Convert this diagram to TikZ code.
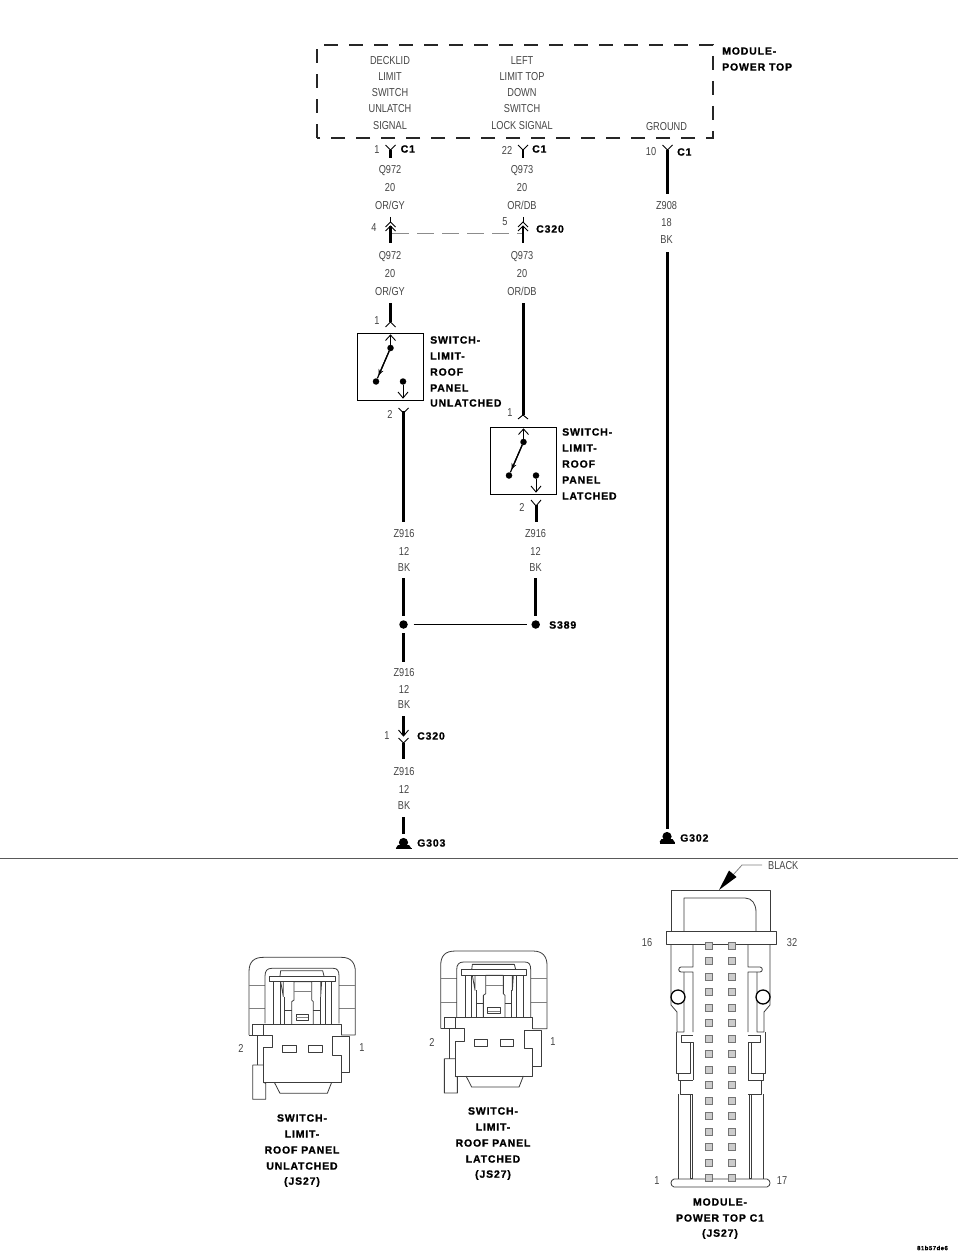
\documentclass[tikz,border=0pt]{standalone}
\usepackage{fontspec}
\usetikzlibrary{arrows.meta,calc}
\newfontfamily\labfont[FakeStretch=0.8]{Liberation Sans}
\newfontfamily\boldbase[LetterSpace=8,BoldFeatures={FakeBold=0.9}]{Liberation Sans}
\newcommand{\boldfont}{\boldbase\bfseries}
\definecolor{labgray}{HTML}{454545}
\definecolor{linegray}{HTML}{3C3C3C}
\tikzset{
  lab/.style={font=\labfont\fontsize{11.5}{13}\selectfont,text=labgray,inner sep=0pt,anchor=center},
  tag/.style={font=\boldfont\fontsize{10.5}{12}\selectfont,text=black,inner sep=0pt,anchor=west},
  ctag/.style={font=\boldfont\fontsize{10.5}{12}\selectfont,text=black,inner sep=0pt,anchor=center},
  wire/.style={line width=3pt,black},
  stub/.style={line width=2.4pt,black},
  fine/.style={line width=1pt,black},
  chevron/.style={line width=.9pt,black,line join=miter},
  dotnode/.style={circle,fill=black,inner sep=0pt,minimum size=8.5pt},
  smalldot/.style={circle,fill=black,inner sep=0pt,minimum size=6.5pt},
  switchbox/.style={draw=black,line width=1.4pt,inner sep=0pt,minimum width=66pt,minimum height=67pt,anchor=north west},
  part/.style={line width=.8pt,linegray,line join=round},
  pin/.style={line width=.9pt,draw=black!55,fill=black!20},
}
\newcommand{\vwire}[5][wire]{\coordinate (#2a) at (#3,#4);\coordinate (#2b) at (#3,#5);\draw[#1] (#2a) -- (#2b);}
\newcommand{\chev}[3]{\draw[chevron] (#1-5,#2+#3) -- (#1,#2) -- (#1+5,#2+#3);}
\newcommand{\switchguts}[3]{% x of box left, y of box top, name
  \node[switchbox] (#3) at (#1,#2) {};
  \node[smalldot] (#3t) at (#1+33.5,#2+15) {};
  \node[smalldot] (#3l) at (#1+19,#2+48.5) {};
  \node[smalldot] (#3r) at (#1+46,#2+48.5) {};
  \draw[fine] (#3t) -- (#1+33.5,#2+2);
  \chev{#1+33.5}{#2+2}{5.5}
  \draw[line width=1.2pt] (#3t) -- (#3l);
  \draw[line width=1.2pt,-{Stealth[length=6pt,width=5pt]}] (#3t) -- ($(#3t)!0.82!(#3l)$);
  \draw[fine] (#3r) -- (#1+46,#2+65);
  \chev{#1+46}{#2+65}{-6}
}
\newcommand{\smallconn}{%
  % cap
  \draw[part] (57,285) -- (57,95) .. controls (57,65) and (72,52) .. (100,52) -- (335,52) .. controls (362,52) and (376,68) .. (376,95) -- (376,285) -- (333,285);
  \draw[part] (57,285) -- (82,285);
  \draw[part,gray] (57,135) -- (105,135) (57,205) -- (105,205) (327,135) -- (376,135) (327,205) -- (376,205);
  \draw[part] (105,250) -- (105,108) .. controls (105,92) and (112,85) .. (125,85) -- (310,85) .. controls (322,85) and (327,92) .. (327,108) -- (327,250);
  \draw[part] (118,108) rectangle (315,125);
  \draw[part] (150,108) -- (152,92) -- (278,92) -- (282,108);
  \draw[part] (152,125) -- (160,170) -- (160,125) (275,125) -- (272,170) -- (272,125);
  \draw[part] (130,125) -- (130,252) (150,125) -- (150,252) (163,170) -- (163,252) (270,170) -- (270,252) (285,125) -- (285,252) (305,125) -- (305,252);
  % centre piece
  \draw[part] (185,252) -- (185,185) -- (192,180) -- (192,125) -- (245,125) -- (245,180) -- (250,185) -- (250,252);
  \draw[part,gray] (192,155) -- (245,155);
  \draw[part] (163,210) -- (185,210) (250,210) -- (270,210);
  \draw[part] (198,222) rectangle (235,240);
  \draw[part,gray] (198,232) -- (235,232);
  % body
  \draw[part] (68,285) rectangle (100,252);
  \draw[part] (100,252) -- (333,252) -- (333,285);
  \draw[part] (82,285) -- (127,285) -- (127,322) -- (100,322) -- (100,427) -- (333,427) -- (333,345) -- (308,345) -- (308,290) -- (358,290) -- (358,398) -- (333,398);
  \draw[part] (82,285) -- (82,375);
  \draw[part] (68,375) -- (100,375) (100,427) -- (107,430) -- (107,478) -- (68,478) -- (68,375);
  \draw[part] (158,317) rectangle (198,337);
  \draw[part] (236,317) rectangle (276,337);
  \draw[part] (133,427) -- (150,460) -- (292,460) -- (305,427);
}
\newcommand{\bigside}{%
  \draw[part] (671,944) -- (671,1005) -- (677,1012) -- (677,1032) -- (684,1032) -- (684,972);
  \draw[part] (693,944) -- (693,967) -- (681,967) .. controls (678,967) and (678,972) .. (681,972) -- (693,972) -- (693,1032);
  \draw[part] (681,1035) -- (681,1042) -- (693,1042) -- (693,1080);
  \draw[part] (681,1035) -- (693,1035);
  \draw[part] (676,1032) -- (676,1073) -- (690,1073) -- (690,1042);
  \draw[part] (678,1073) -- (678,1080) -- (693,1080);
  \draw[part] (680,1080) -- (680,1094) -- (693,1094);
  \draw[part] (678,1094) -- (678,1179);
  \draw[part] (692,1094) -- (692,1179);
  \draw[part] (690,1094) -- (690,1178) -- (692,1178);
  \draw[line width=1.3pt,fill=white] (678,997) circle (7);
}
\begin{document}
\begin{tikzpicture}[x=1pt,y=-1pt]
\useasboundingbox (0,0) rectangle (960,1257);
\fill[white] (0,0) rectangle (960,1257);

% module
\draw[line width=1.6pt,dash pattern=on 14pt off 11pt,black!85] (317,138) -- (317,45) -- (713,45) -- (713,138) -- cycle;
\foreach \t/\y in {DECKLID/61,LIMIT/77,SWITCH/93,UNLATCH/109,SIGNAL/126}
  \node[lab] (m\y) at (390,\y) {\t};
\foreach \t/\y in {LEFT/61,LIMIT TOP/77,DOWN/93,SWITCH/109,LOCK SIGNAL/126}
  \node[lab] (n\y) at (522,\y) {\t};
\node[lab] (gnd) at (666.5,127) {GROUND};
\node[tag] (modA) at (722,51) {MODULE-};
\node[tag] (modB) at (722,67) {POWER TOP};

% C1 connectors
\chev{390.5}{150}{-5}
\vwire[stub]{ca}{390.5}{150}{158}
\chev{523}{150}{-5}
\vwire[stub]{cb}{523}{150}{158}
\chev{667.5}{150}{-5}
\vwire{cc}{667.5}{150}{194}
\node[lab] (p1) at (377,150) {1};
\node[lab] (p22) at (507,150) {22};
\node[lab] (p10) at (651,152) {10};
\node[tag] (c1a) at (400.5,149) {C1};
\node[tag] (c1b) at (532,149) {C1};
\node[tag] (c1c) at (677,152) {C1};

% wire labels, upper
\foreach \t/\y in {Q972/171,20/188,OR\slash GY/205,Q972/257,20/274,OR\slash GY/291}
  \node[lab] at (390,\y) {\t};
\foreach \t/\y in {Q973/171,20/188,OR\slash DB/205,Q973/257,20/274,OR\slash DB/291}
  \node[lab] at (522,\y) {\t};
\foreach \t/\y in {Z908/206,18/223,BK/240}
  \node[lab] at (666.5,\y) {\t};

% C320 upper
\coordinate (dashA) at (392,233.5);
\coordinate (dashB) at (523,233.5);
\draw[line width=1.7pt,black!45,dash pattern=on 17pt off 8pt] (dashA) -- (dashB);
\foreach \x/\n in {390.5/l,523/r}{
  \vwire[chevron]{up\n}{\x}{217}{222}
  \chev{\x}{222}{5}
  \chev{\x}{226}{5}
  \vwire[stub]{low\n}{\x}{226}{243}
}
\node[lab] (p4) at (374,228) {4};
\node[lab] (p5) at (505,222) {5};
\node[tag] (c320a) at (536,229) {C320};

% long wires
\vwire{gw}{667.5}{252}{829}
\vwire{lq}{390.5}{303}{322}
\chev{390.5}{322}{5}
\vwire{rq}{523}{303}{415}
\chev{523}{415}{4}
\node[lab] (s1a) at (377,321) {1};
\node[lab] (s1b) at (510,413) {1};

% switches
\switchguts{357}{333}{swa}
\switchguts{490}{427}{swb}
\foreach \t/\y in {SWITCH-/340,LIMIT-/356,ROOF/372,PANEL/388,UNLATCHED/403}
  \node[tag] at (430,\y) {\t};
\foreach \t/\y in {SWITCH-/432,LIMIT-/448,ROOF/464,PANEL/480,LATCHED/496}
  \node[tag] at (562,\y) {\t};

% below switches
\chev{403.5}{413}{-5}
\vwire{za}{403.5}{411}{522}
\chev{536}{506}{-6}
\vwire{zb}{536}{505}{522}
\node[lab] (s2a) at (390,414) {2};
\node[lab] (s2b) at (522,507) {2};
\foreach \t/\y in {Z916/534,12/551,BK/568}{
  \node[lab] at (404,\y) {\t};
  \node[lab] at (535.5,\y) {\t};
}
\foreach \t/\y in {Z916/673,12/689,BK/705,Z916/772,12/789,BK/806}
  \node[lab] at (404,\y) {\t};

% splice
\node[dotnode] (sl) at (403.5,624.5) {};
\node[dotnode] (sr) at (535.7,624.5) {};
\draw[line width=1.6pt] ($(sl)+(10,0)$) -- ($(sr)+(-9,0)$);
\vwire{ua}{403.5}{578}{616}
\vwire{ub}{535.7}{578}{616}
\vwire{da}{403.5}{633}{662}
\node[tag] (s389) at (549,625) {S389};

% C320 lower
\vwire[wire]{ea}{403.5}{716}{735}
\chev{403.5}{736}{-6}
\chev{403.5}{743}{-5}
\vwire[wire]{eb}{403.5}{743}{759}
\node[lab] (p1l) at (387,736) {1};
\node[tag] (c320b) at (417,736) {C320};

% grounds
\vwire{fa}{403.5}{817}{834}
\fill (403.5,842.5) circle (4.6);
\fill (398,845) -- (409,845) -- (411,848) -- (396,848) -- cycle;
\draw[line width=1.2pt] (395.5,848.5) -- (412,848.5);
\node[tag] (g303) at (417,843) {G303};
\fill (667,836.5) circle (4.6);
\fill (661.5,839) -- (672.5,839) -- (674.5,842) -- (659.5,842) -- cycle;
\draw[line width=1.2pt] (660,843) -- (675,843);
\node[tag] (g302) at (680,838) {G302};

% separator
\draw[line width=1pt,black!65] (0,858) -- (958,858);

% small connectors
\begin{scope}[shift={(230,940)},x=.33333pt,y=-.33333pt]
  \smallconn
\end{scope}
\begin{scope}[shift={(421.7,933.7)},x=.33333pt,y=-.33333pt]
  \smallconn
\end{scope}
\node[lab] (ca2) at (241,1048) {2};
\node[lab] (ca1) at (362,1048) {1};
\node[lab] (cb2) at (432,1042) {2};
\node[lab] (cb1) at (553,1042) {1};
\foreach \t/\y in {SWITCH-/1118,LIMIT-/1134,ROOF PANEL/1150,UNLATCHED/1166,(JS27)/1182}
  \node[ctag] at (302,\y) {\t};
\foreach \t/\y in {SWITCH-/1111,LIMIT-/1127,ROOF PANEL/1143,LATCHED/1159,(JS27)/1175}
  \node[ctag] at (493,\y) {\t};

% big connector
\draw[part] (671,931) -- (671,890) -- (770,890) -- (770,931);
\draw[part] (684,931) -- (684,898) -- (745,898) .. controls (752,898) and (756,904) .. (756,912) -- (756,931);
\draw[part] (666,931) rectangle (776,944);
\draw[part] (674,1179) .. controls (670,1180) and (670,1186) .. (674,1187) -- (767,1187) .. controls (771,1186) and (771,1180) .. (767,1179) -- cycle;
\bigside
\begin{scope}[shift={(1441,0)},x=-1pt]
  \bigside
\end{scope}
\foreach \r in {0,...,15}{
  \draw[pin] (705.5,{945.7+15.5*\r-3.5}) rectangle (712.5,{945.7+15.5*\r+3.5});
  \draw[pin] (728.5,{945.7+15.5*\r-3.5}) rectangle (735.5,{945.7+15.5*\r+3.5});
}
\coordinate (blA) at (762,865);
\coordinate (blB) at (742,865);
\coordinate (blC) at (733,875);
\coordinate (blD) at (719,890);
\node[lab,anchor=west] (black) at (768,866) {BLACK};
\draw[line width=.8pt,gray] (blA) -- (blB) -- (blC);
\fill (blD) -- (729,870.5) -- (736.5,877) -- cycle;
\node[lab] (pa) at (647,943) {16};
\node[lab] (pb) at (792,943) {32};
\node[lab] (pc) at (657,1181) {1};
\node[lab] (pd) at (782,1181) {17};
\foreach \t/\y in {MODULE-/1202,POWER TOP C1/1218,(JS27)/1234}
  \node[ctag] at (720,\y) {\t};
\node[ctag,font=\boldfont\fontsize{6}{7}\selectfont] (code) at (932.5,1248) {81b57de6};
\end{tikzpicture}
\end{document}
